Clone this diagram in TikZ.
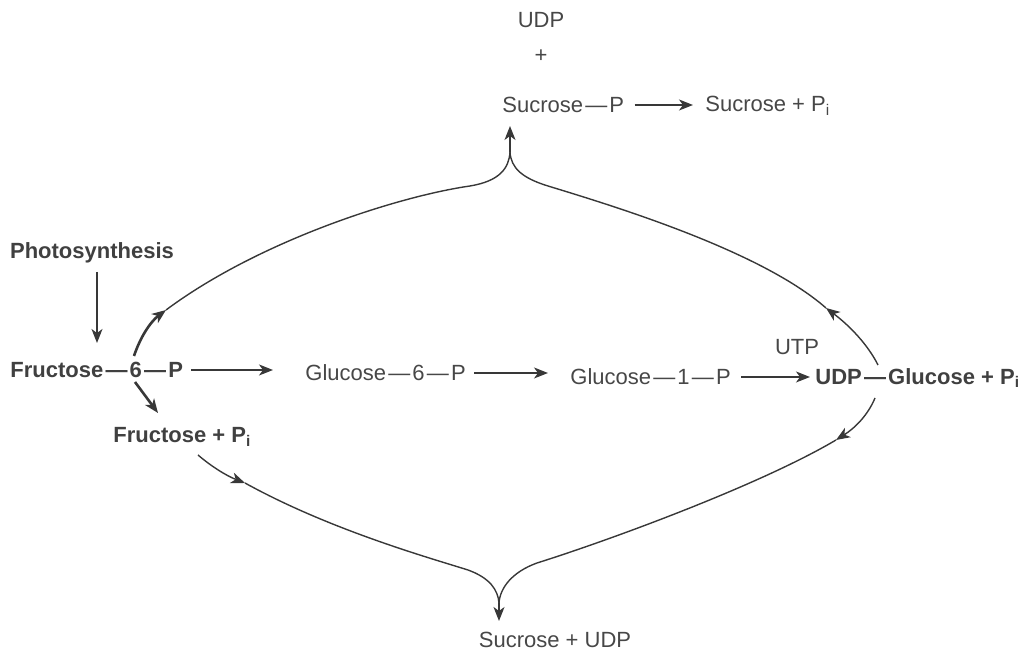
\documentclass[tikz,border=0pt]{standalone}
\usepackage{fontspec}
\setmainfont{Liberation Sans}
\usetikzlibrary{arrows.meta}
\newcommand{\dsh}{\kern0.1em—\kern0.1em}
\begin{document}
\begin{tikzpicture}[x=0.5pt,y=-0.5pt,
  lt/.style={font=\fontsize{11}{13}\selectfont, inner sep=0pt, text=black!72},
  bl/.style={lt, font=\fontsize{11}{13}\selectfont\bfseries, text=black!75},
  line/.style={draw=black!78, line width=0.7pt},
  arr/.style={line, -{Stealth[length=7pt,width=5.5pt,inset=2pt]}},
  barr/.style={arr, line width=1.3pt}]
\useasboundingbox (0,0) rectangle (1024,651);

% labels
\node[lt] (udp) at (541,20) {UDP};
\node[lt] (plus) at (541,56) {+};
\node[lt, anchor=west] (sucP) at (502,105) {Sucrose\dsh P};
\node[lt, anchor=west] (sucPi) at (705,106) {Sucrose + P\textsubscript{i}};
\node[bl] (photo) at (92,253) {Photosynthesis};
\node[bl, anchor=west] (f6p) at (10,370) {Fructose\dsh 6\dsh P};
\node[bl, anchor=west] (frPi) at (113,437) {Fructose + P\textsubscript{i}};
\node[lt, anchor=west] (g6p) at (305,373) {Glucose\dsh 6\dsh P};
\node[lt, anchor=west] (g1p) at (570,377) {Glucose\dsh 1\dsh P};
\node[lt] (utp) at (797,347) {UTP};
\node[bl, anchor=west] (udpg) at (815,378) {UDP\dsh Glucose + P\textsubscript{i}};
\node[lt] (sucUDP) at (555,640) {Sucrose + UDP};

% free-end coordinates
\coordinate (s6up) at (134,356);
\coordinate (s6dn) at (135,382);
\coordinate (m1) at (166,310);
\coordinate (cuspT) at (510,152);
\coordinate (tipT) at (510,126);
\coordinate (sr) at (878,365);
\coordinate (m2) at (826,308);
\coordinate (fl) at (198,455);
\coordinate (m3) at (245,483);
\coordinate (cuspB) at (499,603);
\coordinate (tipB) at (499,621);
\coordinate (sr2) at (875,398);
\coordinate (m4) at (836,440);

% straight arrows
\draw[arr] (97,272) -- (97,343);
\draw[arr] ([xshift=4pt]f6p.east) -- ([xshift=4pt]f6p.east -| 265,0);
\draw[arr] ([xshift=4pt]g6p.east) -- ([xshift=4pt]g6p.east -| 540,0);
\draw[arr] ([xshift=5pt]g1p.east) -- ([xshift=5pt]g1p.east -| 800,0);
\draw[arr] ([xshift=5pt]sucP.east) -- ([xshift=5pt]sucP.east -| 683,0);
\draw[barr] (s6dn) -- (158,413);

% upper loop
\draw[barr] (s6up) .. controls (140,338) and (150,322) .. (m1);
\draw[line] (m1) .. controls (260,240) and (400,196) .. (470,186)
  .. controls (500,181) and (509,168) .. (cuspT);
\draw[arr] (sr) .. controls (868,345) and (850,326) .. (m2);
\draw[line] (m2) .. controls (760,250) and (610,205) .. (548,186)
  .. controls (522,178) and (511,168) .. (cuspT);
\draw[arr] (cuspT) -- (tipT);

% lower loop
\draw[arr] (fl) .. controls (212,467) and (227,476) .. (m3);
\draw[line] (m3) .. controls (330,530) and (430,558) .. (468,570)
  .. controls (490,578) and (498,590) .. (cuspB);
\draw[arr] (sr2) .. controls (868,415) and (855,428) .. (m4);
\draw[line] (m4) .. controls (760,485) and (610,540) .. (537,563)
  .. controls (512,572) and (500,588) .. (cuspB);
\draw[arr] (cuspB) -- (tipB);
\end{tikzpicture}
\end{document}
